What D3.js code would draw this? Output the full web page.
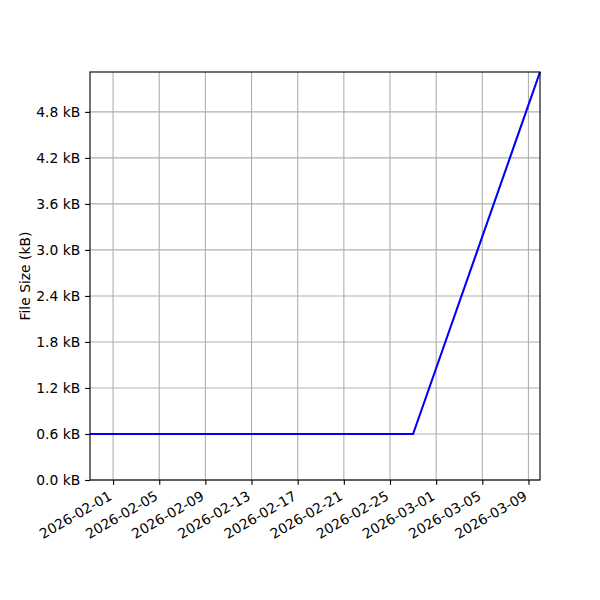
<!DOCTYPE html>
<html>
<head>
<meta charset="utf-8">
<script src="https://cdn.jsdelivr.net/npm/d3@7"></script>
<style>
  body { margin: 0; background: #fff; }
  text { font-family: "DejaVu Sans", sans-serif; }
</style>
</head>
<body>
<div id="chart"></div>
<script>
// data
const dates = ["2026-01-30", "2026-02-27", "2026-03-10"];
const sizes = [0.6, 0.6, 5.32];   // kB
const yTicks = [0, 0.6, 1.2, 1.8, 2.4, 3.0, 3.6, 4.2, 4.8];
const xTickLabels = ["2026-02-01", "2026-02-05", "2026-02-09", "2026-02-13", "2026-02-17",
                     "2026-02-21", "2026-02-25", "2026-03-01", "2026-03-05", "2026-03-09"];

const parse = d3.utcParse("%Y-%m-%d");
const points = dates.map((d, i) => ({ date: parse(d), size: sizes[i] }));

const width = 600, height = 600;
const margin = { top: 72, right: 60, bottom: 120, left: 90 };
const pt = 100 / 72;      // matplotlib points -> px at 100 dpi
const fs = 10 * pt;

const svg = d3.select("#chart").append("svg")
    .attr("width", width)
    .attr("height", height);

const x = d3.scaleUtc()
    .domain(d3.extent(points, d => d.date))
    .range([margin.left, width - margin.right]);

const y = d3.scaleLinear()
    .domain([0, d3.max(sizes)])
    .range([height - margin.bottom, margin.top]);

// grid
const grid = svg.append("g");
grid.selectAll(".gx")
    .data(xTickLabels.map(parse))
    .enter().append("line")
    .attr("x1", d => x(d)).attr("x2", d => x(d))
    .attr("y1", margin.top).attr("y2", height - margin.bottom)
    .attr("stroke", "#b0b0b0").attr("stroke-width", 0.8 * pt);
grid.selectAll(".gy")
    .data(yTicks)
    .enter().append("line")
    .attr("x1", margin.left).attr("x2", width - margin.right)
    .attr("y1", d => y(d)).attr("y2", d => y(d))
    .attr("stroke", "#b0b0b0").attr("stroke-width", 0.8 * pt);

// line
const line = d3.line()
    .x(d => x(d.date))
    .y(d => y(d.size));

svg.append("path")
    .datum(points)
    .attr("fill", "none")
    .attr("stroke", "#0000ff")
    .attr("stroke-width", 1.5 * pt)
    .attr("d", line);

// axes
const xAxis = svg.append("g")
    .attr("transform", `translate(0,${height - margin.bottom})`)
    .call(d3.axisBottom(x)
        .tickValues(xTickLabels.map(parse))
        .tickFormat(d3.utcFormat("%Y-%m-%d"))
        .tickSize(3.5 * pt));
xAxis.selectAll("text")
    .attr("font-size", fs)
    .attr("fill", "#000")
    .attr("text-anchor", "end")
    .attr("x", 0).attr("y", 0)
    .attr("dy", "0.76em")
    .attr("transform", `translate(-6,${7 * pt}) rotate(-30)`);

const yAxis = svg.append("g")
    .attr("transform", `translate(${margin.left},0)`)
    .call(d3.axisLeft(y)
        .tickValues(yTicks)
        .tickFormat(d => d3.format(".1f")(d) + " kB")
        .tickSize(3.5 * pt)
        .tickPadding(3.5 * pt));
yAxis.selectAll("text").attr("font-size", fs).attr("fill", "#000");

[xAxis, yAxis].forEach(a => {
    a.select(".domain").remove();
    a.selectAll(".tick line").attr("stroke", "#000").attr("stroke-width", 0.8 * pt);
});

// frame
svg.append("rect")
    .attr("x", margin.left).attr("y", margin.top)
    .attr("width", width - margin.left - margin.right)
    .attr("height", height - margin.top - margin.bottom)
    .attr("fill", "none")
    .attr("stroke", "#000")
    .attr("stroke-width", 0.8 * pt);

svg.append("text")
    .attr("transform", `translate(30,${(margin.top + height - margin.bottom) / 2}) rotate(-90)`)
    .attr("text-anchor", "middle")
    .attr("font-size", fs)
    .text("File Size (kB)");
</script>
</body>
</html>
